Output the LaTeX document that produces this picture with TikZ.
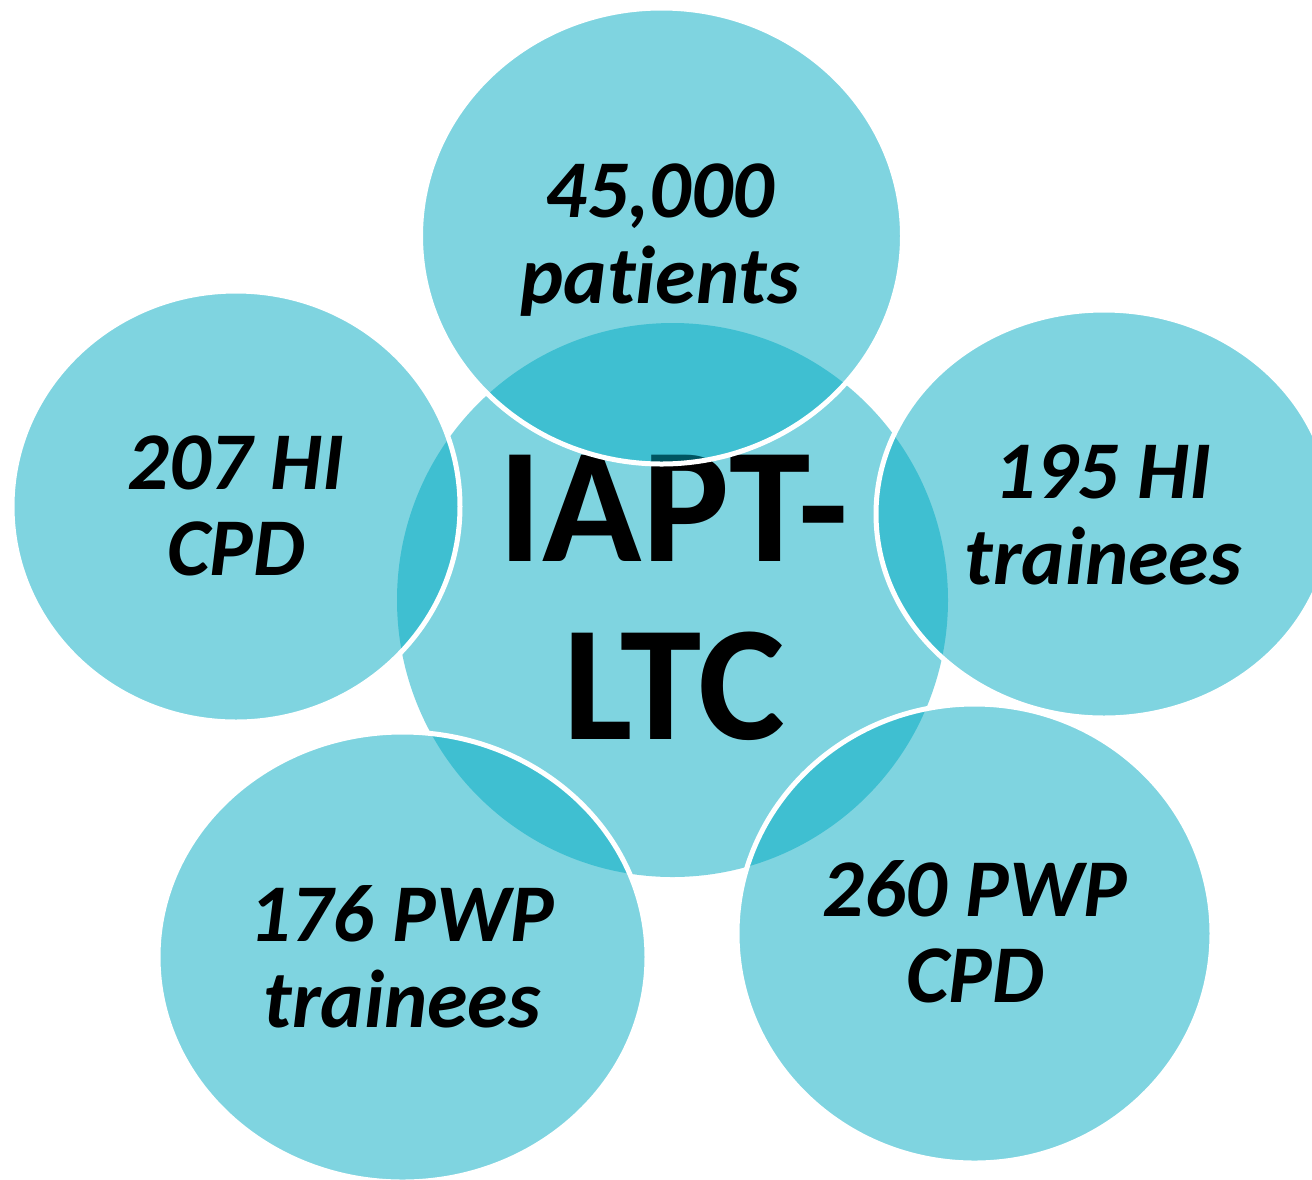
\documentclass[tikz,border=0pt]{standalone}
\usepackage{fontspec}
\setmainfont{Carlito}[Ligatures=NoCommon,RawFeature={-liga;-dlig}]
\definecolor{teal}{RGB}{0,171,195}
\begin{document}
\begin{tikzpicture}[x=1pt,y=-1pt,
  disc/.style={fill=teal,fill opacity=0.5,draw=white,line width=5pt,draw opacity=1},
  outtext/.style={text=black,text opacity=1,align=center,font=\fontsize{82}{86}\selectfont\bfseries\itshape},
  midtext/.style={text=black,align=center,font=\fontsize{164}{178}\selectfont\bfseries}]
\fill[white] (0,0) rectangle (1312,1179);
\clip (0,0) rectangle (1312,1179);
% central disc
\fill[teal,fill opacity=0.5] (672.5,600) ellipse [x radius=275.5, y radius=277];
\node[midtext] (mid) at (674,598) {IAPT-\\LTC};
% outer discs
\draw[disc] (661.5,236) ellipse [x radius=241, y radius=228];
\node[outtext] (top) at (660,240) {45,000\\pat\kern0pt ients};
\draw[disc] (236,506.5) ellipse [x radius=224, y radius=215.5];
\node[outtext] (left) at (236,506) {207 HI\\CPD};
\draw[disc] (1104,514) ellipse [x radius=228, y radius=204];
\node[outtext] (right) at (1103,515) {195 HI\\trainees};
\draw[disc] (402.5,957) ellipse [x radius=244.5, y radius=225];
\node[outtext] (botleft) at (402,957) {176 PWP\\trainees};
\draw[disc] (974.5,933.5) ellipse [x radius=237.5, y radius=229.5];
\node[outtext] (botright) at (975,932) {260 PWP\\CPD};
\end{tikzpicture}
\end{document}
